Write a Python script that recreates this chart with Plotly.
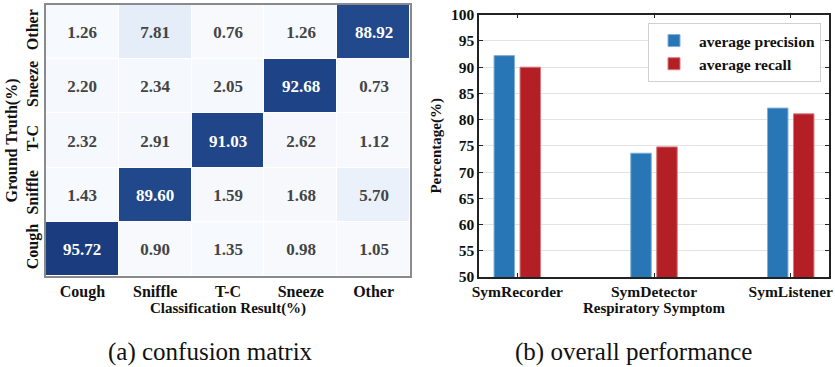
import plotly.graph_objects as go

classes = ["Cough", "Sniffle", "T-C", "Sneeze", "Other"]
# rows: ground truth (bottom to top), columns: classification result
conf_cough = [95.72, 0.90, 1.35, 0.98, 1.05]
conf_sniffle = [1.43, 89.60, 1.59, 1.68, 5.70]
conf_tc = [2.32, 2.91, 91.03, 2.62, 1.12]
conf_sneeze = [2.20, 2.34, 2.05, 92.68, 0.73]
conf_other = [1.26, 7.81, 0.76, 1.26, 88.92]

systems = ["SymRecorder", "SymDetector", "SymListener"]
avg_precision = [92.2, 73.6, 82.2]
avg_recall = [90.0, 74.8, 81.1]
y_ticks = [50, 55, 60, 65, 70, 75, 80, 85, 90, 95, 100]

W, H = 835, 367
SERIF = "Liberation Serif"


def bold(size):
    return dict(family=SERIF, size=size, color="#111", weight="bold")


fig = go.Figure()

fig.add_trace(go.Heatmap(
    z=[conf_cough, conf_sniffle, conf_tc, conf_sneeze, conf_other],
    x=classes, y=classes,
    zmin=0, zmax=100,
    colorscale=[[0, "#f8fafd"], [0.03, "#f4f7fc"], [0.057, "#ebf1fa"],
                [0.078, "#e4edf8"], [0.88, "#234b8e"],
                [0.96, "#1b3d80"], [1, "#183779"]],
    showscale=False, xgap=1, ygap=1,
    texttemplate="%{z:.2f}",
    textfont=dict(family=SERIF, size=17, weight="bold"),
    hoverinfo="skip",
    xaxis="x", yaxis="y",
))

fig.add_trace(go.Bar(
    x=systems, y=avg_precision, name="average precision",
    marker=dict(color="#2976b6", line=dict(color="#7fb0d8", width=1)),
    width=0.15, offset=-0.17,
    xaxis="x2", yaxis="y2",
))
fig.add_trace(go.Bar(
    x=systems, y=avg_recall, name="average recall",
    marker=dict(color="#b31f24", line=dict(color="#d87a7d", width=1)),
    width=0.15, offset=0.02,
    xaxis="x2", yaxis="y2",
))

fig.update_layout(
    width=W, height=H,
    margin=dict(l=0, r=0, t=0, b=0, autoexpand=False),
    paper_bgcolor="white", plot_bgcolor="white",
    font=dict(family=SERIF, size=15, color="#111"),
    xaxis=dict(domain=[46 / W, 410 / W], anchor="y", automargin=False,
               showline=True, mirror=True, linecolor="#8a8a8a", linewidth=1.5,
               ticks="", tickfont=bold(16), showgrid=False, zeroline=False,
               title=dict(text="Classification Result(%)", font=bold(15), standoff=2)),
    yaxis=dict(domain=[1 - 276 / H, 1 - 5 / H], anchor="x", automargin=False,
               showline=True, mirror=True, linecolor="#8a8a8a", linewidth=1.5,
               ticks="", tickfont=bold(16), tickangle=-90, showgrid=False, zeroline=False,
               title=dict(text="Ground Truth(%)", font=bold(16), standoff=2)),
    xaxis2=dict(domain=[479 / W, 829 / W], anchor="y2", automargin=False,
                range=[-0.28, 2.28],
                showline=True, mirror="ticks", linecolor="#222", linewidth=1.5,
                ticks="inside", ticklen=4, tickcolor="#222",
                tickfont=bold(15.5), showgrid=False, zeroline=False,
                title=dict(text="Respiratory Symptom", font=bold(15), standoff=2)),
    yaxis2=dict(domain=[1 - 277 / H, 1 - 14.7 / H], anchor="x2", automargin=False,
                range=[50, 100], tickvals=y_ticks,
                showline=True, mirror="ticks", linecolor="#222", linewidth=1.5,
                ticks="inside", ticklen=4, tickcolor="#222",
                tickfont=bold(15.5), showgrid=True, gridcolor="#e3e3e3", gridwidth=1,
                zeroline=False,
                title=dict(text="Percentage(%)", font=bold(15), standoff=6)),
    legend=dict(x=648 / W, y=1 - 23 / H, xanchor="left", yanchor="top",
                bordercolor="#d0d0d0", borderwidth=1, bgcolor="white",
                font=bold(15.5),
                itemwidth=40, tracegroupgap=0),
    showlegend=True,
    annotations=[
        dict(text="(a) confusion matrix", x=210 / W, y=1 - 352 / H,
             xref="paper", yref="paper", xanchor="center", yanchor="middle",
             showarrow=False, font=dict(family=SERIF, size=25, color="#111")),
        dict(text="(b) overall performance", x=633 / W, y=1 - 352 / H,
             xref="paper", yref="paper", xanchor="center", yanchor="middle",
             showarrow=False, font=dict(family=SERIF, size=25, color="#111")),
    ],
)

fig.write_html(
    "out.html",
    config={"displayModeBar": False},
    post_script="document.body.style.margin='0';document.body.style.padding='0';",
)
